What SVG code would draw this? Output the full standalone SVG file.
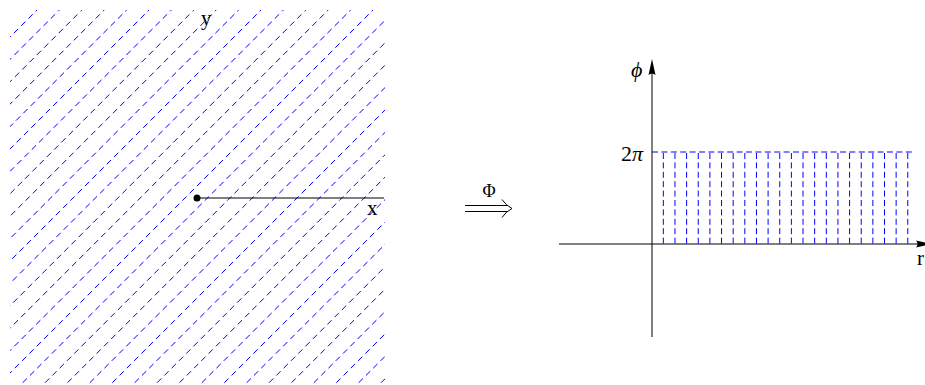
<svg xmlns="http://www.w3.org/2000/svg" width="925" height="385" viewBox="0 0 925 385">
<defs>
<style>
.hatch{fill:none;stroke:#0000ff;stroke-width:1;stroke-dasharray:6 4.3}
.grid{fill:none;stroke:#0000ff;stroke-width:1;stroke-dasharray:6 3.4}
.axis{fill:none;stroke:#000;stroke-width:1}
.lbl{font-family:"Liberation Serif","DejaVu Serif",serif;fill:#000}
</style>
<clipPath id="sq"><rect x="10" y="10" width="375" height="375"/></clipPath>
</defs>
<rect width="925" height="385" fill="#fff"/>
<g id="xy-plane">
<path class="hatch" clip-path="url(#sq)" d="M-343 390L47 0M-320.6 390L69.4 0M-298.2 390L91.8 0M-275.8 390L114.2 0M-253.4 390L136.6 0M-231 390L159 0M-208.6 390L181.4 0M-186.2 390L203.8 0M-163.8 390L226.2 0M-141.4 390L248.6 0M-119 390L271 0M-96.6 390L293.4 0M-74.2 390L315.8 0M-51.8 390L338.2 0M-29.4 390L360.6 0M-7 390L383 0M15.4 390L405.4 0M37.8 390L427.8 0M60.2 390L450.2 0M82.6 390L472.6 0M105 390L495 0M127.4 390L517.4 0M149.8 390L539.8 0M172.2 390L562.2 0M194.6 390L584.6 0M217 390L607 0M239.4 390L629.4 0M261.8 390L651.8 0M284.2 390L674.2 0M306.6 390L696.6 0M329 390L719 0M351.4 390L741.4 0M373.8 390L763.8 0"/>
<line x1="197" y1="198" x2="384" y2="198" stroke="#000" stroke-width="1.1"/>
<circle cx="197" cy="198" r="3.5" fill="#000"/>
<text class="lbl" x="201" y="25" font-size="21">y</text>
<text class="lbl" x="367" y="215" font-size="21">x</text>
</g>
<g id="mapping">
<text class="lbl" x="489" y="197" font-size="18" text-anchor="middle">Φ</text>
<path d="M465 205.5H507M465 211.5H507M502 199.5Q506 205.5 512 208.5Q506 211.5 502 217.5" fill="none" stroke="#000" stroke-width="1"/>
</g>
<g id="r-phi-plane">
<path class="grid" d="M652 152H912"/>
<path class="grid" d="M663.34 153V244M674.98 153V244M686.62 153V244M698.26 153V244M709.9 153V244M721.54 153V244M733.18 153V244M744.82 153V244M756.46 153V244M768.1 153V244M779.74 153V244M791.38 153V244M803.02 153V244M814.66 153V244M826.3 153V244M837.94 153V244M849.58 153V244M861.22 153V244M872.86 153V244M884.5 153V244M896.14 153V244M907.78 153V244"/>
<text class="lbl" x="621" y="161" font-size="22">2<tspan font-style="italic">π</tspan></text>
<text class="lbl" x="631" y="77" font-size="22" font-style="italic">ϕ</text>
<text class="lbl" x="917" y="265" font-size="21">r</text>
</g>
<g id="connectors">
<path class="axis" d="M652 337V72"/>
<path class="axis" d="M559 244H919"/>
<path d="M652 59L648.5 75Q652 72 655.5 75Z" fill="#000"/>
<path d="M932 244L916 240.5Q919 244 916 247.5Z" fill="#000"/>
</g>
</svg>
